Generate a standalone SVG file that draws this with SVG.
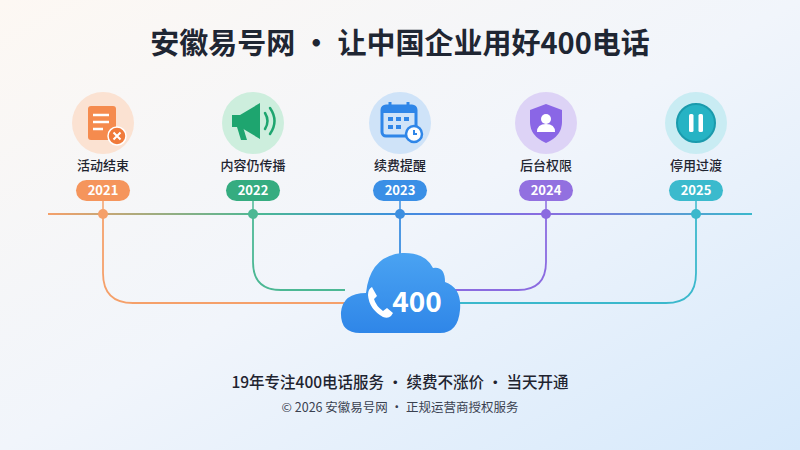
<svg xmlns="http://www.w3.org/2000/svg" width="800" height="450" viewBox="0 0 800 450">
<defs>
<linearGradient id="bg" x1="0" y1="0" x2="1" y2="1"><stop offset="0" stop-color="#fdf8f3"/><stop offset="0.5" stop-color="#f1f5fb"/><stop offset="1" stop-color="#d6e9fb"/></linearGradient>
<linearGradient id="tl" gradientUnits="userSpaceOnUse" x1="48" y1="0" x2="752" y2="0"><stop offset="0" stop-color="#f5a06a"/><stop offset="0.3" stop-color="#4cb894"/><stop offset="0.5" stop-color="#3d8fe0"/><stop offset="0.7" stop-color="#8b6be0"/><stop offset="1" stop-color="#3bb8cc"/></linearGradient>
<linearGradient id="cl" x1="0" y1="0" x2="0" y2="1"><stop offset="0" stop-color="#4aa3f2"/><stop offset="1" stop-color="#2f86e8"/></linearGradient>
</defs>
<style>
.t{font-family:"Noto Sans CJK SC","Noto Sans",sans-serif}
.lab{font-size:13px;fill:#1f2430;text-anchor:middle;font-weight:500}
.yr{font-size:13px;fill:#fff;text-anchor:middle;font-weight:600}
.c{fill:none;stroke-width:1.8}
</style>
<rect width="800" height="450" fill="url(#bg)"/>
<text class="t" x="400" y="54" font-size="29" font-weight="700" fill="#1f2633" text-anchor="middle">安徽易号网 · 让中国企业用好400电话</text>
<g id="connectors">
<line x1="48" y1="214" x2="752" y2="214" stroke="url(#tl)" stroke-width="1.8"/>
<path class="c" stroke="#f5a06a" d="M103 214 V273 Q103 303 133 303 H345"/>
<path class="c" stroke="#4cb894" d="M253 214 V262 Q253 290 281 290 H345"/>
<path class="c" stroke="#3d8fe0" d="M400 214 V258"/>
<path class="c" stroke="#8b6be0" d="M546 214 V262 Q546 290 518 290 H455"/>
<path class="c" stroke="#3bb8cc" d="M696 214 V273 Q696 303 666 303 H455"/>
<g stroke-width="1.5"><line x1="103" y1="200" x2="103" y2="214" stroke="#f5a06a"/><line x1="253" y1="200" x2="253" y2="214" stroke="#4cb894"/><line x1="400" y1="200" x2="400" y2="214" stroke="#3d8fe0"/><line x1="546" y1="200" x2="546" y2="214" stroke="#8b6be0"/><line x1="696" y1="200" x2="696" y2="214" stroke="#3bb8cc"/></g>
</g>
<g id="n2021">
<circle cx="103" cy="123" r="31" fill="#fbe2d2"/>
<rect x="88" y="106" width="28" height="34" rx="3" fill="#f58b4e"/>
<g stroke="#fff" stroke-width="2.5"><line x1="93" y1="115" x2="109" y2="115"/><line x1="93" y1="122" x2="109" y2="122"/><line x1="93" y1="129" x2="103" y2="129"/></g>
<circle cx="117" cy="136" r="9" fill="#f07a3a" stroke="#fff" stroke-width="1.5"/>
<path d="M113.5 132.5 L120.5 139.5 M120.5 132.5 L113.5 139.5" stroke="#fff" stroke-width="2"/>
<text class="t lab" x="103" y="170">活动结束</text>
<rect x="76" y="180" width="54" height="21" rx="10.5" fill="#f5955c"/>
<text class="t yr" x="103" y="195">2021</text>
<circle cx="103" cy="214" r="5" fill="#f5a06a"/>
</g>
<g id="n2022">
<circle cx="253" cy="123" r="31" fill="#cdeedd"/>
<path d="M232 115 h8 l20 -12 v36 l-20 -12 h-8 z" fill="#1ea56f"/>
<path d="M237 127 l4 13 h6 l-4 -13 z" fill="#1ea56f"/>
<path d="M265 113 q5 8 0 16 M270 108 q9 13 0 26" fill="none" stroke="#1ea56f" stroke-width="2.5" stroke-linecap="round"/>
<text class="t lab" x="253" y="170">内容仍传播</text>
<rect x="226" y="180" width="54" height="21" rx="10.5" fill="#35ac80"/>
<text class="t yr" x="253" y="195">2022</text>
<circle cx="253" cy="214" r="5" fill="#4cb894"/>
</g>
<g id="n2023">
<circle cx="400" cy="123" r="31" fill="#cfe3f8"/>
<rect x="382" y="106" width="34" height="30" rx="4" fill="none" stroke="#2f86e8" stroke-width="3"/>
<rect x="382" y="106" width="34" height="7" fill="#2f86e8"/>
<g fill="#2f86e8"><rect x="388" y="117" width="5" height="4"/><rect x="396" y="117" width="5" height="4"/><rect x="404" y="117" width="5" height="4"/><rect x="388" y="125" width="5" height="4"/><rect x="396" y="125" width="5" height="4"/></g>
<line x1="390" y1="102" x2="390" y2="109" stroke="#2f86e8" stroke-width="3"/><line x1="408" y1="102" x2="408" y2="109" stroke="#2f86e8" stroke-width="3"/>
<circle cx="414" cy="134" r="8" fill="#fff" stroke="#2f86e8" stroke-width="2.5"/>
<path d="M414 130 v4 h3" stroke="#2f86e8" stroke-width="2" fill="none"/>
<text class="t lab" x="400" y="170">续费提醒</text>
<rect x="373" y="180" width="54" height="21" rx="10.5" fill="#3a8fe6"/>
<text class="t yr" x="400" y="195">2023</text>
<circle cx="400" cy="214" r="5" fill="#3d8fe0"/>
</g>
<g id="n2024">
<circle cx="546" cy="123" r="31" fill="#ddd3f6"/>
<path d="M546 104 l16 6 v12 q0 14 -16 21 q-16 -7 -16 -21 v-12 z" fill="#8a66e6"/>
<circle cx="546" cy="119" r="5" fill="#fff"/>
<path d="M537 132 q0 -8 9 -8 q9 0 9 8 z" fill="#fff"/>
<text class="t lab" x="546" y="170">后台权限</text>
<rect x="519" y="180" width="54" height="21" rx="10.5" fill="#9270e0"/>
<text class="t yr" x="546" y="195">2024</text>
<circle cx="546" cy="214" r="5" fill="#8b6be0"/>
</g>
<g id="n2025">
<circle cx="696" cy="123" r="31" fill="#c9ecf3"/>
<circle cx="696" cy="123" r="19" fill="#26b3c4" stroke="#1a9aac" stroke-width="2"/>
<rect x="689" y="114" width="4.5" height="18" rx="1.5" fill="#fff"/><rect x="698.5" y="114" width="4.5" height="18" rx="1.5" fill="#fff"/>
<text class="t lab" x="696" y="170">停用过渡</text>
<rect x="669" y="180" width="54" height="21" rx="10.5" fill="#3bbacd"/>
<text class="t yr" x="696" y="195">2025</text>
<circle cx="696" cy="214" r="5" fill="#3bb8cc"/>
</g>
<g id="cloud">
<path d="M360 333 Q340 333 341 312 Q343 293 366 293 Q370 256 402 253 Q425 252 433 268 Q445 266 445 282 Q462 288 460 310 Q458 333 440 333 Z" fill="url(#cl)"/>
<path d="M372 287 q-4 2 -4 8 q1 14 15 22 q5 2 8 -1 l2 -3 l-6 -5 l-4 3 q-7 -5 -9 -12 l3 -3 l-4 -7 z" fill="#fff"/>
<text class="t" x="417" y="312" font-size="28" font-weight="700" fill="#fff" text-anchor="middle">400</text>
</g>
<text class="t" x="400" y="388" font-size="15.5" font-weight="500" fill="#1f2430" text-anchor="middle">19年专注400电话服务 · 续费不涨价 · 当天开通</text>
<text class="t" x="400" y="412" font-size="12.5" fill="#3a4150" text-anchor="middle">© 2026 安徽易号网 · 正规运营商授权服务</text>
</svg>
